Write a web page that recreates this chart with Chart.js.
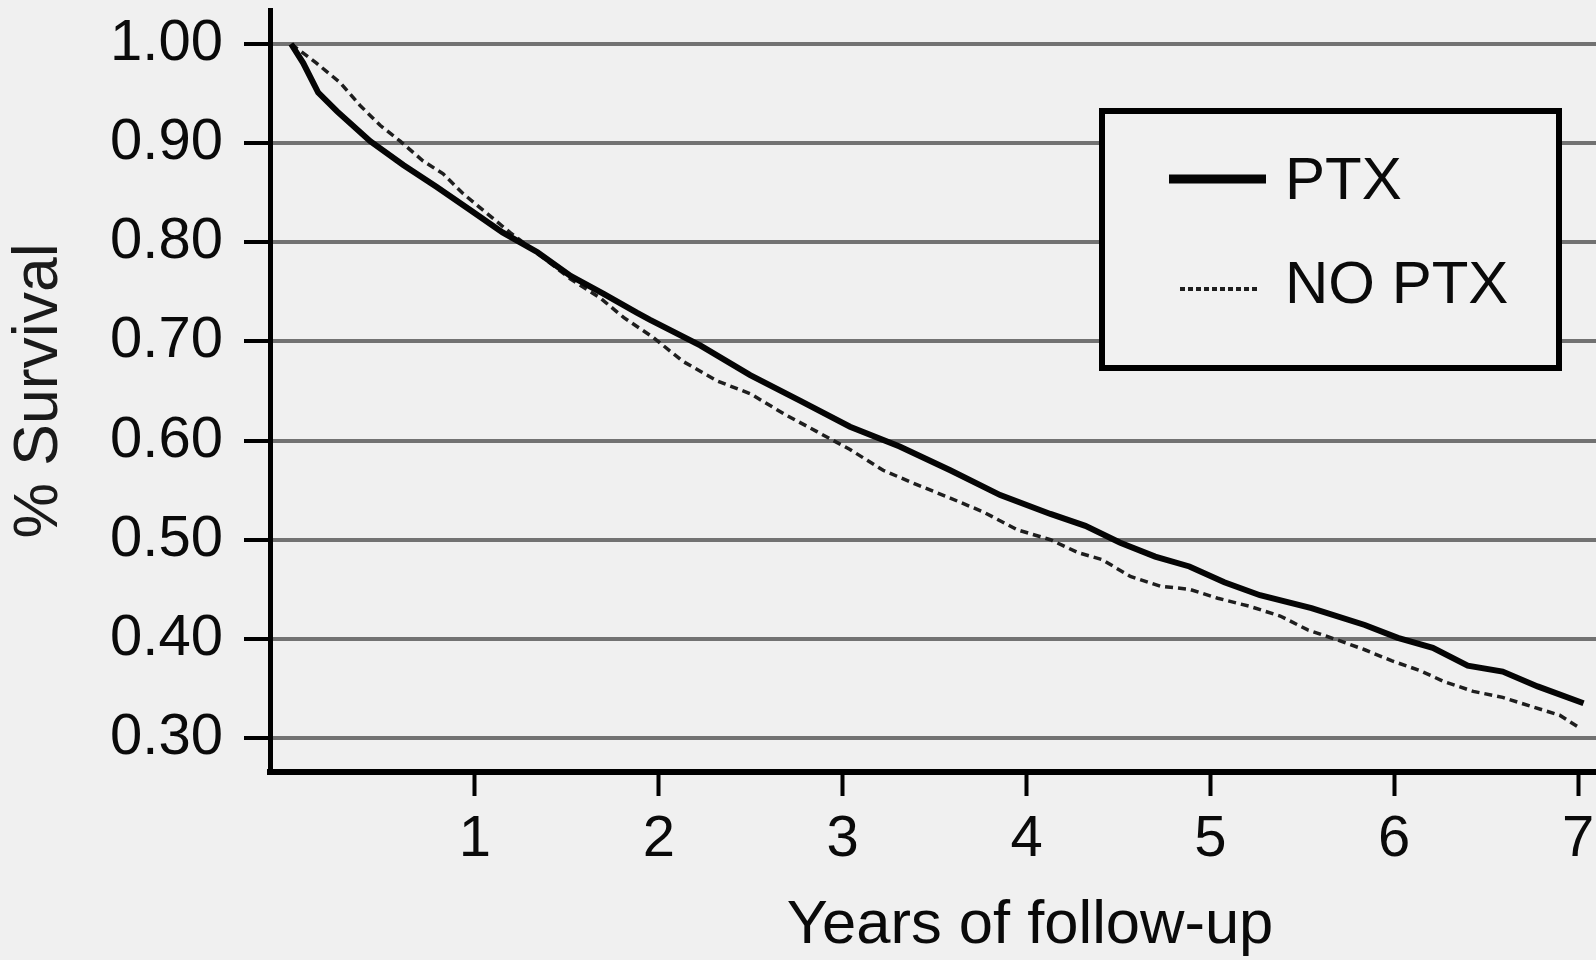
<!DOCTYPE html>
<html>
<head>
<meta charset="utf-8">
<title>Survival by PTX status</title>
<style>
  html, body { margin: 0; padding: 0; background: #f0f0f0; overflow: hidden; width: 1596px; height: 960px; }
  #wrap { position: absolute; left: 0; top: 0; width: 1800px; height: 960px; }
  canvas { display: block; }
</style>
<script src="https://cdn.jsdelivr.net/npm/chart.js@4.4.1/dist/chart.umd.min.js"></script>
</head>
<body>
<div id="wrap"><canvas id="survival" width="1800" height="960"></canvas></div>
<script>
// Kaplan-Meier survival estimates, years of follow-up vs. proportion surviving
const ptxYears = [0, 0.065, 0.147, 0.25, 0.43, 0.61, 0.79, 0.97, 1.15, 1.34, 1.52, 1.70, 1.88, 1.95,
  2.225, 2.497, 2.77, 3.04, 3.31, 3.585, 3.857, 4.13, 4.32, 4.51, 4.70, 4.886, 5.076, 5.27, 5.55,
  5.84, 6.02, 6.21, 6.40, 6.59, 6.78, 7.03];
const ptxSurvival = [1.000, 0.981, 0.951, 0.932, 0.902, 0.878, 0.856, 0.833, 0.810, 0.790, 0.766, 0.748, 0.729, 0.722,
  0.696, 0.666, 0.640, 0.614, 0.594, 0.570, 0.545, 0.526, 0.514, 0.497, 0.483, 0.473, 0.457, 0.444, 0.431,
  0.414, 0.401, 0.391, 0.373, 0.367, 0.352, 0.335];

const noPtxYears = [0, 0.136, 0.267, 0.375, 0.484, 0.593, 0.718, 0.827, 0.936, 1.066, 1.19, 1.34, 1.52, 1.68,
  1.81, 1.97, 2.13, 2.32, 2.50, 2.68, 2.86, 3.04, 3.22, 3.41, 3.585, 3.765, 3.95, 4.13, 4.28, 4.41,
  4.565, 4.73, 4.886, 5.04, 5.21, 5.38, 5.53, 5.69, 5.84, 5.985, 6.14, 6.27, 6.43, 6.59, 6.76, 6.90, 7.01];
const noPtxSurvival = [1.000, 0.981, 0.961, 0.938, 0.918, 0.902, 0.882, 0.869, 0.849, 0.829, 0.810, 0.789, 0.763, 0.744,
  0.724, 0.704, 0.680, 0.660, 0.647, 0.627, 0.609, 0.591, 0.570, 0.555, 0.542, 0.528, 0.510, 0.500, 0.487, 0.480,
  0.463, 0.453, 0.450, 0.441, 0.433, 0.423, 0.409, 0.399, 0.389, 0.378, 0.368, 0.357, 0.347, 0.341, 0.331, 0.323, 0.310];

const seriesLabels = ['PTX', 'NO PTX'];
const yearTicks = [1, 2, 3, 4, 5, 6, 7];
const survivalTicks = [0.30, 0.40, 0.50, 0.60, 0.70, 0.80, 0.90, 1.00];

const FONT = '"Liberation Sans", Arial, Helvetica, sans-serif';

const toPoints = (xs, ys) => xs.map((x, i) => ({ x: x, y: ys[i] }));

// Framed legend drawn inside the plot area from the dataset styles
const boxLegend = {
  id: 'boxLegend',
  afterDatasetsDraw(chart, args, opts) {
    const ctx = chart.ctx;
    ctx.save();
    ctx.fillStyle = opts.fill;
    ctx.fillRect(opts.x, opts.y, opts.w, opts.h);
    ctx.lineWidth = opts.borderWidth;
    ctx.strokeStyle = opts.borderColor;
    ctx.strokeRect(opts.x, opts.y, opts.w, opts.h);
    chart.data.datasets.forEach((ds, i) => {
      const row = opts.rows[i];
      ctx.beginPath();
      ctx.setLineDash(row.dash);
      ctx.lineWidth = row.lineWidth;
      ctx.strokeStyle = ds.borderColor;
      ctx.moveTo(row.x0, row.lineY);
      ctx.lineTo(row.x1, row.lineY);
      ctx.stroke();
      ctx.setLineDash([]);
      ctx.fillStyle = '#0a0a0a';
      ctx.font = opts.fontSize + 'px ' + FONT;
      ctx.textBaseline = 'middle';
      ctx.textAlign = 'left';
      ctx.fillText(ds.label, opts.textX, row.textY);
    });
    ctx.restore();
  }
};

new Chart(document.getElementById('survival'), {
  type: 'line',
  data: {
    datasets: [
      {
        label: seriesLabels[0],
        data: toPoints(ptxYears, ptxSurvival),
        borderColor: '#050505',
        borderWidth: 6,
        pointRadius: 0,
        tension: 0
      },
      {
        label: seriesLabels[1],
        data: toPoints(noPtxYears, noPtxSurvival),
        borderColor: '#1e1e1e',
        borderWidth: 3.5,
        borderDash: [8, 5],
        pointRadius: 0,
        tension: 0
      }
    ]
  },
  options: {
    responsive: false,
    animation: false,
    layout: { padding: { left: 0, top: 10, right: 10, bottom: 0 } },
    plugins: {
      legend: { display: false },
      tooltip: { enabled: false },
      boxLegend: {
        x: 1102, y: 111, w: 457, h: 257,
        fill: '#f1f1f1', borderColor: '#000', borderWidth: 6,
        fontSize: 60, textX: 1285,
        rows: [
          { x0: 1169, x1: 1266, lineY: 179, lineWidth: 9, dash: [], textY: 182 },
          { x0: 1180, x1: 1259, lineY: 289, lineWidth: 4, dash: [5, 3], textY: 286 }
        ]
      }
    },
    scales: {
      x: {
        type: 'linear',
        min: -0.115,
        max: 8.153,
        afterFit: (scale) => { scale.height = 188; },
        afterBuildTicks: (scale) => { scale.ticks = yearTicks.map(v => ({ value: v })); },
        grid: {
          drawOnChartArea: false,
          drawTicks: true,
          tickLength: 24,
          tickColor: '#000',
          tickWidth: 4
        },
        border: { display: true, color: '#000', width: 6 },
        ticks: {
          color: '#0a0a0a',
          font: { family: FONT, size: 58 },
          padding: 9,
          maxRotation: 0,
          autoSkip: false,
          callback: (v) => String(v)
        },
        title: {
          display: true,
          text: 'Years of follow-up',
          color: '#0a0a0a',
          font: { family: FONT, size: 61.5, lineHeight: 1 },
          padding: { top: 0, bottom: 3 }
        }
      },
      y: {
        type: 'linear',
        min: 0.2657,
        max: 1.0343,
        afterFit: (scale) => {
          scale.width = 270;
          scale.paddingTop = 0;
          scale.paddingBottom = 0;
        },
        afterBuildTicks: (scale) => { scale.ticks = survivalTicks.map(v => ({ value: v })); },
        grid: {
          drawOnChartArea: true,
          drawTicks: true,
          color: '#727272',
          lineWidth: 4,
          tickLength: 26,
          tickColor: '#000',
          tickWidth: 4
        },
        border: { display: true, color: '#000', width: 5 },
        ticks: {
          color: '#0a0a0a',
          font: { family: FONT, size: 58 },
          padding: 21,
          autoSkip: false,
          callback: (v) => Number(v).toFixed(2)
        },
        title: {
          display: true,
          text: '% Survival',
          color: '#1a1a1a',
          font: { family: FONT, size: 62.5, lineHeight: 1 },
          padding: { top: 9, bottom: 0 }
        }
      }
    }
  },
  plugins: [boxLegend]
});
</script>
</body>
</html>
